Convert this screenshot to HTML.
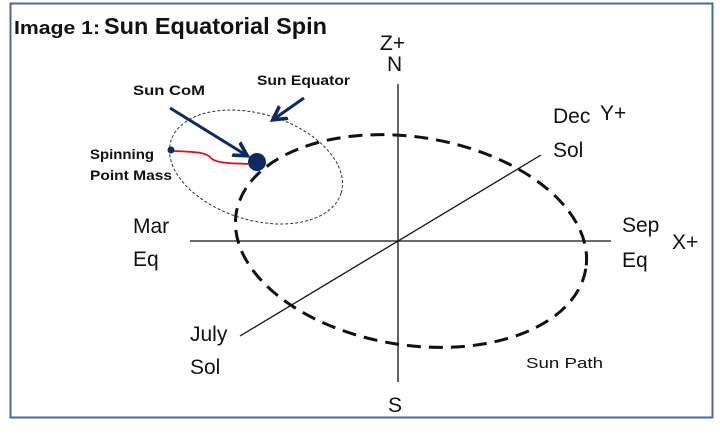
<!DOCTYPE html>
<html><head><style>
body{margin:0;background:#fff;}
svg{display:block;font-family:"Liberation Sans",sans-serif;}
</style></head><body>
<svg width="720" height="439" viewBox="0 0 720 439">
<defs><marker id="a" markerWidth="6" markerHeight="6" refX="4" refY="3" orient="auto" markerUnits="strokeWidth"><path d="M0,0.5 L4.5,3 L0,5.5" fill="none" stroke="#0f2a5e" stroke-width="1.2"/></marker></defs>
<rect x="10.5" y="3.5" width="702" height="414" fill="#fff" stroke="#4a6a94" stroke-width="2"/>
<text x="14" y="34" font-size="18" font-weight="bold" fill="#111" textLength="86" lengthAdjust="spacingAndGlyphs">Image 1:</text>
<text x="104" y="34" font-size="23" font-weight="bold" fill="#111" textLength="223" lengthAdjust="spacingAndGlyphs">Sun Equatorial Spin</text>
<ellipse cx="411" cy="241" rx="177" ry="104" transform="rotate(9 411 241)" fill="none" stroke="#111" stroke-width="3" stroke-dasharray="14,8"/>
<ellipse cx="256" cy="167" rx="89" ry="53" transform="rotate(17 256 167)" fill="none" stroke="#333" stroke-width="1" stroke-dasharray="3,2"/>
<line x1="398" y1="84" x2="398" y2="382" stroke="#111" stroke-width="1.3"/>
<line x1="190" y1="241" x2="611" y2="241" stroke="#111" stroke-width="1.3"/>
<line x1="240" y1="336" x2="541" y2="155" stroke="#111" stroke-width="1.3"/>
<path d="M174,151 C195,152 205,152 210,157 C215,164 232,163 248,164" fill="none" stroke="#e01010" stroke-width="1.8"/>
<circle cx="171" cy="150" r="3.5" fill="#0f2a5e"/>
<circle cx="257" cy="162" r="9" fill="#0f2a5e"/>
<line x1="170" y1="108" x2="246" y2="155" stroke="#0f2a5e" stroke-width="3" marker-end="url(#a)"/>
<line x1="304" y1="98" x2="274" y2="119" stroke="#0f2a5e" stroke-width="3" marker-end="url(#a)"/>
<g font-weight="bold" font-size="14" fill="#111">
<text x="133" y="95" textLength="72" lengthAdjust="spacingAndGlyphs">Sun CoM</text>
<text x="257" y="85" textLength="93" lengthAdjust="spacingAndGlyphs">Sun Equator</text>
<text x="90" y="159" textLength="64" lengthAdjust="spacingAndGlyphs">Spinning</text>
<text x="90" y="180" textLength="82" lengthAdjust="spacingAndGlyphs">Point Mass</text>
</g>
<g font-size="21" fill="#111">
<text x="380" y="50">Z+</text>
<text x="387" y="71">N</text>
<text x="553" y="123">Dec</text>
<rect x="590" y="100" width="40" height="28" fill="#fff"/>
<text x="600" y="120">Y+</text>
<text x="553" y="157">Sol</text>
<text x="133" y="233">Mar</text>
<text x="133" y="266">Eq</text>
<text x="622" y="232">Sep</text>
<text x="622" y="267">Eq</text>
<text x="672" y="249">X+</text>
<text x="190" y="341">July</text>
<text x="190" y="374">Sol</text>
<text x="388" y="412">S</text>
</g>
<text x="526" y="368" font-size="15" fill="#111" textLength="77" lengthAdjust="spacingAndGlyphs">Sun Path</text>
</svg>
</body></html>
